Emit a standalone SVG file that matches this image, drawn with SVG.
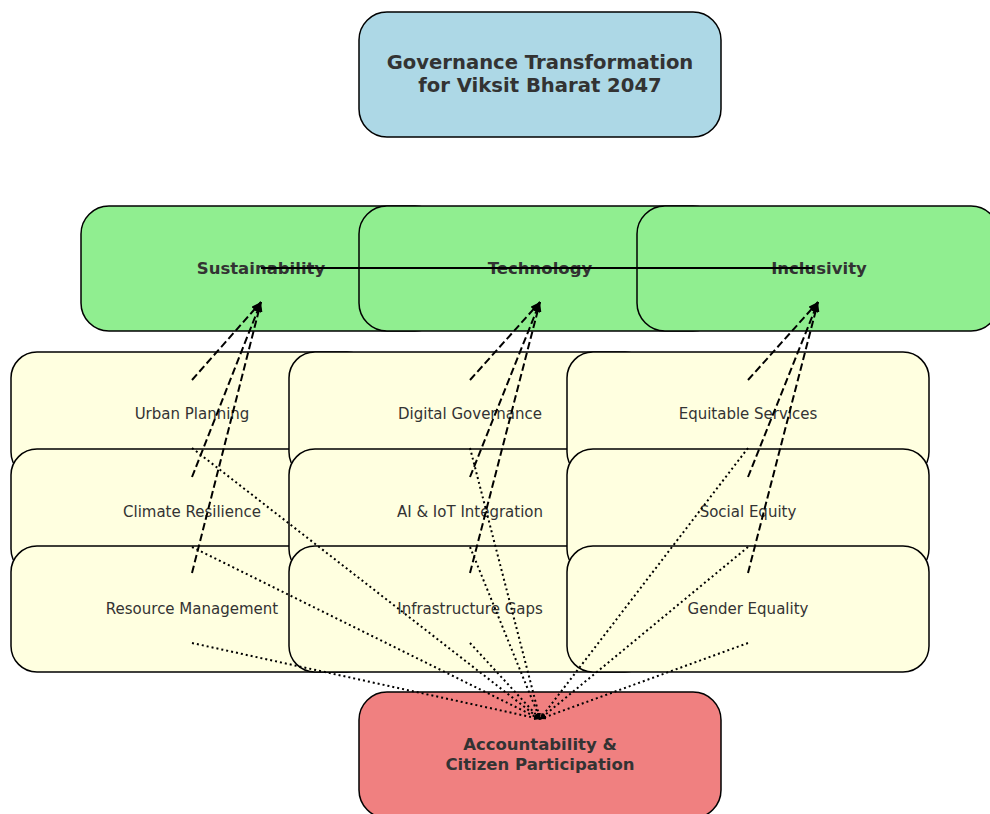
<svg xmlns="http://www.w3.org/2000/svg" width="990" height="814" viewBox="0 0 990 814">
<defs>
<style>
.box{stroke:#000;stroke-width:1.5}
.top{fill:#ADD8E6}
.pillar{fill:#90EE90}
.sub{fill:#FFFFE0}
.acc{fill:#F08080}
.t{font-family:"DejaVu Sans",Verdana,sans-serif;fill:#333333;text-anchor:middle}
.title{font-size:19.6px;font-weight:bold}
.pl{font-size:16.5px;font-weight:bold}
.sl{font-size:15px}
.dash{stroke:#000;stroke-width:2;stroke-dasharray:7.5 3.5;fill:none;marker-end:url(#ah)}
.dot{stroke:#000;stroke-width:2;stroke-dasharray:2 3;fill:none;marker-end:url(#ahs)}
.solid{stroke:#000;stroke-width:2;fill:none}
</style>
<marker id="ah" viewBox="0 0 10 8" refX="10" refY="4" markerWidth="10" markerHeight="8" markerUnits="userSpaceOnUse" orient="auto">
<path d="M0,0 L10,4 L0,8 Z" fill="#000"/>
</marker>
<marker id="ahs" viewBox="0 0 10 8" refX="10" refY="4" markerWidth="6" markerHeight="5" markerUnits="userSpaceOnUse" orient="auto">
<path d="M0,0 L10,4 L0,8 Z" fill="#000"/>
</marker>
</defs>
<rect width="990" height="814" fill="#fff"/>

<g id="node-title">
<rect class="box top" x="359" y="12" width="362" height="125" rx="28"/>
<text class="t title" x="540" y="69">Governance Transformation</text>
<text class="t title" x="540" y="92">for Viksit Bharat 2047</text>
</g>

<g id="node-sustainability">
<rect class="box pillar" x="81" y="206" width="362" height="125" rx="28"/>
<text class="t pl" x="261" y="274">Sustainability</text>
</g>
<g id="node-technology">
<rect class="box pillar" x="359" y="206" width="362" height="125" rx="28"/>
<text class="t pl" x="540" y="274">Technology</text>
</g>
<g id="node-inclusivity">
<rect class="box pillar" x="637" y="206" width="362" height="125" rx="28"/>
<text class="t pl" x="819" y="274">Inclusivity</text>
</g>

<g id="node-urban-planning">
<rect class="box sub" x="11" y="352" width="362" height="126" rx="26"/>
<text class="t sl" x="192" y="419">Urban Planning</text>
</g>
<g id="node-climate-resilience">
<rect class="box sub" x="11" y="449" width="362" height="126" rx="26"/>
<text class="t sl" x="192" y="517">Climate Resilience</text>
</g>
<g id="node-resource-management">
<rect class="box sub" x="11" y="546" width="362" height="126" rx="26"/>
<text class="t sl" x="192" y="614">Resource Management</text>
</g>
<g id="node-digital-governance">
<rect class="box sub" x="289" y="352" width="362" height="126" rx="26"/>
<text class="t sl" x="470" y="419">Digital Governance</text>
</g>
<g id="node-ai-iot">
<rect class="box sub" x="289" y="449" width="362" height="126" rx="26"/>
<text class="t sl" x="470" y="517">AI &amp; IoT Integration</text>
</g>
<g id="node-infrastructure-gaps">
<rect class="box sub" x="289" y="546" width="362" height="126" rx="26"/>
<text class="t sl" x="470" y="614">Infrastructure Gaps</text>
</g>
<g id="node-equitable-services">
<rect class="box sub" x="567" y="352" width="362" height="126" rx="26"/>
<text class="t sl" x="748" y="419">Equitable Services</text>
</g>
<g id="node-social-equity">
<rect class="box sub" x="567" y="449" width="362" height="126" rx="26"/>
<text class="t sl" x="748" y="517">Social Equity</text>
</g>
<g id="node-gender-equality">
<rect class="box sub" x="567" y="546" width="362" height="126" rx="26"/>
<text class="t sl" x="748" y="614">Gender Equality</text>
</g>

<g id="node-accountability">
<rect class="box acc" x="359" y="692" width="362" height="126" rx="28"/>
<text class="t pl" x="540" y="750">Accountability &amp;</text>
<text class="t pl" x="540" y="770">Citizen Participation</text>
</g>

<g id="connectors">
<line class="solid" x1="261" y1="268" x2="813" y2="268"/>

<line class="dash" x1="192" y1="380" x2="261" y2="302"/>
<line class="dash" x1="192" y1="477" x2="261" y2="302"/>
<line class="dash" x1="192" y1="573" x2="261" y2="302"/>
<line class="dash" x1="470" y1="380" x2="540" y2="302"/>
<line class="dash" x1="470" y1="477" x2="540" y2="302"/>
<line class="dash" x1="470" y1="573" x2="540" y2="302"/>
<line class="dash" x1="748" y1="380" x2="818" y2="302"/>
<line class="dash" x1="748" y1="477" x2="818" y2="302"/>
<line class="dash" x1="748" y1="573" x2="818" y2="302"/>

<line class="dot" x1="192" y1="448" x2="540" y2="719"/>
<line class="dot" x1="192" y1="547" x2="540" y2="719"/>
<line class="dot" x1="192" y1="643" x2="540" y2="719"/>
<line class="dot" x1="470" y1="448" x2="540" y2="719"/>
<line class="dot" x1="470" y1="547" x2="540" y2="719"/>
<line class="dot" x1="470" y1="643" x2="540" y2="719"/>
<line class="dot" x1="748" y1="448" x2="540" y2="719"/>
<line class="dot" x1="748" y1="547" x2="540" y2="719"/>
<line class="dot" x1="748" y1="643" x2="540" y2="719"/>
</g>
</svg>
